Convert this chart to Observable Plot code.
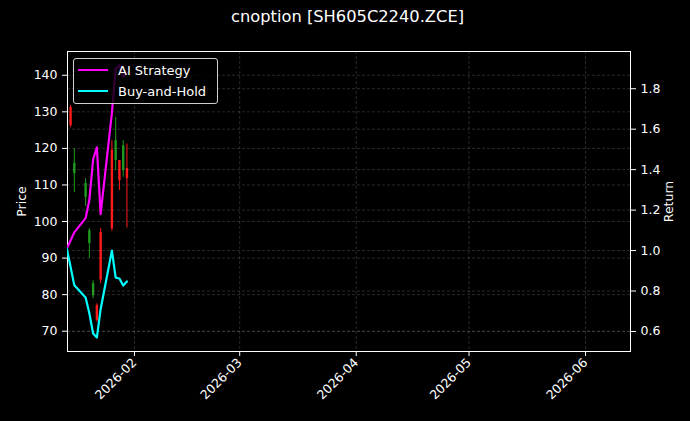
<!DOCTYPE html>
<html>
<head>
<meta charset="utf-8">
<script src="https://cdn.jsdelivr.net/npm/d3@7"></script>
<script src="https://cdn.jsdelivr.net/npm/@observablehq/plot@0.6"></script>
<style>
  html, body { margin: 0; padding: 0; background: #000; }
  #wrap { position: relative; width: 690px; height: 421px; background: #000; overflow: hidden; font-family: "DejaVu Sans", sans-serif; }
  #wrap svg { position: absolute; left: 0; top: 0; }
  #title { position: absolute; left: 0; width: 695px; top: 7px; text-align: center; color: #fff; font-size: 16.3px; }
  #legend { position: absolute; left: 73px; top: 58px; width: 143px; height: 44px; border: 1px solid #cfcfcf; border-radius: 3px; background: rgba(0,0,0,0.8); color: #fff; font-size: 13px; z-index: 5; }
  .li { position: absolute; left: 4px; height: 16px; display: flex; align-items: center; }
  .sw { width: 30px; height: 2.5px; margin-right: 10px; }
</style>
</head>
<body>
<div id="wrap">
  <div id="title">cnoption [SH605C2240.ZCE]</div>
  <div id="legend">
    <div class="li" style="top:3px"><span class="sw" style="background:#ff00ff"></span>AI Strategy</div>
    <div class="li" style="top:24px"><span class="sw" style="background:#00ffff"></span>Buy-and-Hold</div>
  </div>
</div>
<script>
// ---- Candlestick data (price axis) ----
const candleDates = ["2026-01-15","2026-01-16","2026-01-19","2026-01-20","2026-01-21","2026-01-22","2026-01-23","2026-01-26","2026-01-27","2026-01-28","2026-01-29","2026-01-30"];
const openP  = [126.2, 115.9, 110.4, 97.5, 83.0, 73.0, 84.0, 98.0, 122.1, 111.2, 120.7, 111.7];
const highP  = [131.7, 120.0, 111.7, 98.1, 83.8, 77.5, 98.1, 122.1, 128.5, 116.7, 122.1, 121.2];
const lowP   = [125.7, 107.9, 104.1, 89.9, 78.9, 72.5, 83.0, 97.3, 113.9, 108.5, 112.1, 98.2];
const closeP = [131.2, 113.1, 106.6, 94.0, 79.7, 77.0, 97.0, 119.5, 116.7, 116.7, 114.0, 114.5];

// ---- Return series (right axis) ----
const lineDates  = ["2026-01-14","2026-01-15","2026-01-16","2026-01-19","2026-01-20","2026-01-21","2026-01-22","2026-01-23","2026-01-26","2026-01-27","2026-01-28","2026-01-29","2026-01-30"];
const aiStrategy = [1.01, 1.05, 1.09, 1.16, 1.25, 1.45, 1.51, 1.18, 1.68, 1.90, 1.917, 1.86, 1.88];
const buyHold    = [1.01, 0.92, 0.828, 0.768, 0.69, 0.59, 0.57, 0.71, 1.00, 0.866, 0.862, 0.827, 0.847];

// ---- Axis ticks ----
const priceTicks  = [70, 80, 90, 100, 110, 120, 130, 140];
const returnTicks = [0.6, 0.8, 1.0, 1.2, 1.4, 1.6, 1.8];
const monthTicks  = ["2026-02-01","2026-03-01","2026-04-01","2026-05-01","2026-06-01"];

const xDomain = [new Date("2026-01-14T04:30:00Z"), new Date("2026-06-12T23:00:00Z")];
const priceDomain = [64.45, 146.5];
const returnDomain = [0.501, 1.984];

const candles = candleDates.map((d, i) => ({
  date: new Date(d + "T00:00:00Z"), open: openP[i], high: highP[i], low: lowP[i], close: closeP[i],
  color: closeP[i] >= openP[i] ? "#ff1a1a" : "#1f9a1f"
}));
const lines = [
  ...lineDates.map((d, i) => ({date: new Date(d + "T00:00:00Z"), value: aiStrategy[i], series: "AI Strategy"})),
  ...lineDates.map((d, i) => ({date: new Date(d + "T00:00:00Z"), value: buyHold[i], series: "Buy-and-Hold"}))
];
const months = monthTicks.map(d => new Date(d + "T00:00:00Z"));

const common = {
  width: 690, height: 421,
  marginLeft: 67, marginRight: 60, marginTop: 51, marginBottom: 70,
  style: {background: "transparent", color: "#fff", fontFamily: "DejaVu Sans, sans-serif", fontSize: "12px"}
};
const gridStyle = {stroke: "#9a9a9a", strokeOpacity: 0.45, strokeWidth: 0.6, strokeDasharray: "3,2"};

const price = Plot.plot({
  ...common,
  x: {type: "utc", domain: xDomain},
  y: {domain: priceDomain},
  marks: [
    Plot.gridX(months, gridStyle),
    Plot.gridY(priceTicks, gridStyle),
    Plot.ruleX(candles, {x: "date", y1: "low", y2: "high", stroke: "color", strokeWidth: 1}),
    Plot.ruleX(candles, {x: "date", y1: "open", y2: "close", stroke: "color", strokeWidth: 2.4}),
    Plot.axisY(priceTicks, {anchor: "left", tickSize: 5, tickPadding: 5, stroke: "#fff", label: "Price", labelAnchor: "center", labelArrow: "none", labelOffset: 50, fontSize: 12.5}),
    Plot.axisX(months, {anchor: "bottom", tickSize: 5, tickPadding: 4, stroke: "#fff", tickFormat: d3.utcFormat("%Y-%m"), tickRotate: -45, textAnchor: "end", label: null, fontSize: 12.5}),
    Plot.frame({stroke: "#fff", strokeWidth: 1})
  ]
});

const ret = Plot.plot({
  ...common,
  x: {type: "utc", domain: xDomain, axis: null},
  y: {domain: returnDomain, axis: null},
  marks: [
    Plot.gridY(returnTicks, gridStyle),
    Plot.line(lines, {x: "date", y: "value", z: "series", stroke: d => d.series === "AI Strategy" ? "#ff00ff" : "#00ffff", strokeWidth: 2.2, clip: true}),
    Plot.axisY(returnTicks, {anchor: "right", tickSize: 5, tickPadding: 5, stroke: "#fff", tickFormat: d3.format(".1f"), label: "Return", labelAnchor: "center", labelArrow: "none", labelOffset: 42, fontSize: 12.5})
  ]
});

const wrap = document.getElementById("wrap");
wrap.insertBefore(price, wrap.firstChild);
wrap.insertBefore(ret, price.nextSibling);
</script>
</body>
</html>
